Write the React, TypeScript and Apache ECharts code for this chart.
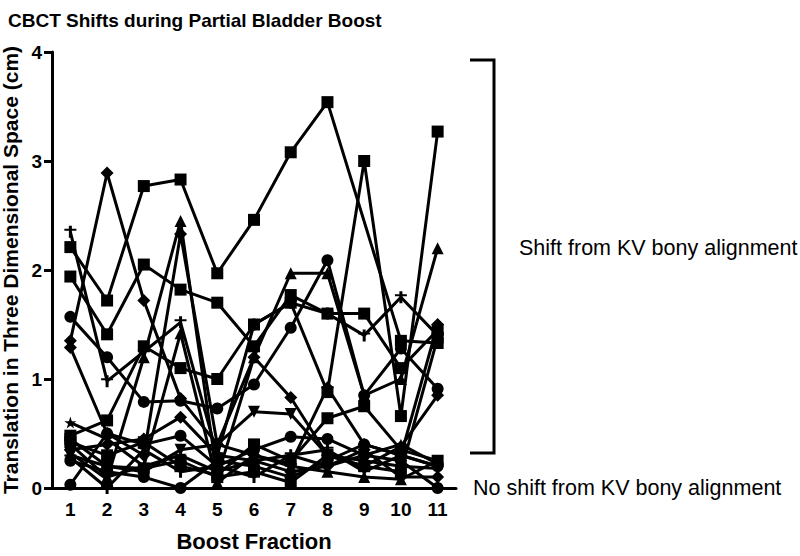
import React, { useEffect, useRef } from "react";
import * as echarts from "echarts";

const fractions = ["1", "2", "3", "4", "5", "6", "7", "8", "9", "10", "11"];
const yTicks = [0, 1, 2, 3, 4];

const sq1 = [2.21, 1.72, 2.77, 2.83, 1.97, 2.46, 3.08, 3.54, null, 1.35, 1.33];
const sq2 = [1.94, 1.41, 2.05, 1.82, 1.7, 1.3, 1.77, 1.6, 1.6, 1.1, 1.45];
const sq3 = [0.48, 0.62, 1.3, 1.1, 1.0, 1.5, 1.7, 0.88, 3.0, 0.66, 3.27];
const dia1 = [1.35, 2.89, 1.72, 0.82, 0.4, 0.3, 0.22, 0.92, 0.4, 0.3, 1.5];
const cir1 = [1.57, 1.2, 0.79, 0.8, 0.73, 0.95, 1.47, 2.09, 0.85, 1.28, 0.91];
const tri1 = [0.32, 0.08, 1.2, 2.45, 0.1, 1.2, 1.97, 1.97, 0.85, 1.0, 2.2];
const crs1 = [2.35, 0.98, 1.25, 1.52, 0.3, 1.5, 1.7, 1.6, 1.4, 1.75, 1.4];
const dia2 = [1.29, 0.5, 0.3, 2.33, 0.4, 1.2, 0.83, 0.3, 0.2, 0.38, 0.85];
const star1 = [0.6, 0.45, 0.2, 0.3, 0.15, 0.25, 0.3, 0.2, 0.3, 0.4, 0.22];
const cir2 = [0.03, 0.5, 0.4, 0.48, 0.2, 0.35, 0.47, 0.45, 0.3, 0.25, 0.0];
const sq4 = [0.42, 0.3, 0.42, 0.2, 0.12, 0.4, 0.25, 0.64, 0.75, 0.35, 0.25];
const triDown1 = [0.3, 0.2, 0.15, 0.35, 0.4, 0.7, 0.68, 0.3, 0.25, 0.2, 0.18];
const cir3 = [0.25, 0.15, 0.1, 0.0, 0.25, 0.2, 0.1, 0.25, 0.4, 0.3, 0.2];
const tri2 = [0.4, 0.1, 0.2, 1.42, 0.05, 0.3, 0.2, 0.15, 0.1, 0.08, 0.25];
const sq5 = [0.45, 0.2, 0.18, 0.25, 0.1, 0.15, 0.05, 0.3, 0.2, 0.15, 1.38];
const crs2 = [0.28, 0.0, 0.35, 0.15, 0.2, 0.1, 0.3, 0.35, 0.15, 0.3, 0.2];
const dia3 = [0.35, 0.4, 0.45, 0.65, 0.3, 0.25, 0.15, 0.2, 0.35, 0.1, 0.1];

const STAR = "path://M5,0 L6.2,3.6 L10,3.6 L6.9,5.8 L8.1,9.5 L5,7.2 L1.9,9.5 L3.1,5.8 L0,3.6 L3.8,3.6 Z";
const CROSS = "path://M4,0H6V3H9V5H6V12H4V5H1V3H4Z";

const seriesDefs: { data: (number | null)[]; symbol: string; rotate?: number; size?: number }[] = [
  { data: sq1, symbol: "rect" },
  { data: sq2, symbol: "rect" },
  { data: sq3, symbol: "rect" },
  { data: dia1, symbol: "diamond", size: 13 },
  { data: cir1, symbol: "circle" },
  { data: tri1, symbol: "triangle", size: 12 },
  { data: crs1, symbol: CROSS, size: 12 },
  { data: dia2, symbol: "diamond", size: 13 },
  { data: star1, symbol: STAR, size: 12 },
  { data: cir2, symbol: "circle" },
  { data: sq4, symbol: "rect" },
  { data: triDown1, symbol: "triangle", rotate: 180, size: 12 },
  { data: cir3, symbol: "circle" },
  { data: tri2, symbol: "triangle", size: 12 },
  { data: sq5, symbol: "rect" },
  { data: crs2, symbol: CROSS, size: 12 },
  { data: dia3, symbol: "diamond", size: 13 },
];

const FONT = "'Liberation Sans', Arial, Helvetica, sans-serif";

export default function App() {
  const ref = useRef<HTMLDivElement>(null);
  useEffect(() => {
    if (!ref.current) return;
    const chart = echarts.init(ref.current, null, { renderer: "svg" });
    chart.setOption({
      animation: false,
      backgroundColor: "#ffffff",
      title: {
        text: "CBCT Shifts during Partial Bladder Boost",
        left: 3,
        top: 6,
        textStyle: { fontFamily: FONT, fontSize: 19, fontWeight: "bold", color: "#000" },
      },
      grid: { left: 52, right: 344, top: 52, bottom: 68, containLabel: false, outerBoundsMode: "none" },
      xAxis: {
        type: "category",
        data: fractions,
        boundaryGap: true,
        name: "Boost Fraction",
        nameLocation: "middle",
        nameGap: 42,
        nameTextStyle: { fontFamily: FONT, fontSize: 22, fontWeight: "bold", color: "#000" },
        axisLine: { lineStyle: { color: "#000", width: 3 } },
        axisTick: { alignWithLabel: true, length: 8, lineStyle: { color: "#000", width: 3 } },
        axisLabel: { fontFamily: FONT, fontSize: 19, fontWeight: "bold", color: "#000", margin: 12 },
        splitLine: { show: false },
      },
      yAxis: {
        type: "value",
        min: 0,
        max: 4,
        interval: 1,
        name: "Translation in Three Dimensional Space (cm)",
        nameLocation: "middle",
        nameRotate: 90,
        nameGap: 23,
        nameTextStyle: { fontFamily: FONT, fontSize: 21, fontWeight: "bold", color: "#000" },
        axisLine: { show: true, lineStyle: { color: "#000", width: 3 } },
        axisTick: { show: true, length: 8, lineStyle: { color: "#000", width: 3 } },
        axisLabel: {
          fontFamily: FONT,
          fontSize: 19,
          fontWeight: "bold",
          color: "#000",
          margin: 10,
          formatter: (v: number) => (yTicks.includes(v) ? String(v) : ""),
        },
        splitLine: { show: false },
      },
      series: seriesDefs.map((s) => ({
        type: "line",
        data: s.data,
        connectNulls: true,
        symbol: s.symbol,
        symbolSize: s.size ?? 12,
        symbolRotate: s.rotate ?? 0,
        showAllSymbol: true,
        clip: false,
        lineStyle: { color: "#000", width: 3 },
        itemStyle: { color: "#000", borderWidth: 0 },
      })),
      graphic: [
        {
          type: "polyline",
          shape: { points: [[470, 60], [494, 60], [494, 453], [470, 453]] },
          style: { stroke: "#000", lineWidth: 3, fill: "none" },
        },
        {
          type: "text",
          left: 519,
          top: 237,
          style: { text: "Shift from KV bony alignment", font: `21.5px ${FONT}`, fill: "#000" },
        },
        {
          type: "text",
          left: 473,
          top: 477,
          style: { text: "No shift from KV bony alignment", font: `21.5px ${FONT}`, fill: "#000" },
        },
      ],
    });
    return () => chart.dispose();
  }, []);
  return <div ref={ref} style={{ width: 800, height: 556, position: "absolute", left: 0, top: 0 }} />;
}
